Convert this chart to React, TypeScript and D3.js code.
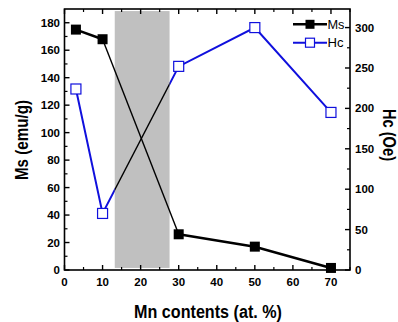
import React from 'react';
import * as d3 from 'd3';

// Mn content (at. %) and measured values
const mnContent = [3, 10, 30, 50, 70];
const msValues = [175, 168, 26, 17, 1.5];
const hcValues = [224, 70, 252, 300, 195];

// shaded two-phase region
const bandX = [13.2, 27.6];
const bandMs = [1.5, 188.5];

const xTicks = [0, 10, 20, 30, 40, 50, 60, 70];
const xMinor = [5, 15, 25, 35, 45, 55, 65, 75];
const msTicks = [0, 20, 40, 60, 80, 100, 120, 140, 160, 180];
const msMinor = [10, 30, 50, 70, 90, 110, 130, 150, 170];
const hcTicks = [0, 50, 100, 150, 200, 250, 300];
const hcMinor = [25, 75, 125, 175, 225, 275];

const W = 398;
const H = 322;
const left = 64.5, right = 350, top = 9, bottom = 270;
const font = '"Liberation Sans", Arial, sans-serif';

const App = () => {
  const x = d3.scaleLinear().domain([0, 75]).range([left, right]);
  const yMs = d3.scaleLinear().domain([0, 190]).range([bottom, top]);
  const yHc = d3.scaleLinear().domain([0, 323]).range([bottom, top]);

  const msPts: [number, number][] = mnContent.map((m, i) => [x(m), yMs(msValues[i])]);
  const hcPts: [number, number][] = mnContent.map((m, i) => [x(m), yHc(hcValues[i])]);
  const line = d3.line();

  const bx0 = x(bandX[0]), bx1 = x(bandX[1]);
  const by0 = yMs(bandMs[1]), by1 = yMs(bandMs[0]);

  const sq = 10;

  return (
    <svg width={W} height={H} style={{ position: 'absolute', left: 0, top: 0, background: '#fff' }}>
      <defs>
        <clipPath id="band">
          <rect x={bx0} y={0} width={bx1 - bx0} height={H} />
        </clipPath>
      </defs>

      {/* Hc line (blue) */}
      <path d={line(hcPts) || ''} fill="none" stroke="#1010dd" strokeWidth={2} />
      {/* Ms thick segments */}
      <path d={line(msPts.slice(0, 2)) || ''} fill="none" stroke="#000" strokeWidth={2.6} />
      <path d={line(msPts.slice(2)) || ''} fill="none" stroke="#000" strokeWidth={2.6} />

      {/* shaded region */}
      <rect x={bx0} y={by0} width={bx1 - bx0} height={by1 - by0} fill="#c0c0c0" />

      {/* thin crossing lines */}
      <path d={line(msPts.slice(1, 3)) || ''} fill="none" stroke="#000" strokeWidth={1.4} />
      <path d={line(hcPts.slice(1, 3)) || ''} fill="none" stroke="#000" strokeWidth={1.4} clipPath="url(#band)" />

      {/* markers */}
      {msPts.map(([px, py], i) => (
        <rect key={'ms' + i} x={px - sq / 2} y={py - sq / 2} width={sq} height={sq} fill="#000" />
      ))}
      {hcPts.map(([px, py], i) => (
        <rect key={'hc' + i} x={px - sq / 2} y={py - sq / 2} width={sq} height={sq} fill="#fff" stroke="#1010dd" strokeWidth={1.2} />
      ))}

      {/* frame */}
      <rect x={left} y={top} width={right - left} height={bottom - top} fill="none" stroke="#000" strokeWidth={1.6} />

      {/* bottom / top ticks */}
      {xTicks.map(t => (
        <g key={'xt' + t}>
          <line x1={x(t)} x2={x(t)} y1={bottom} y2={bottom - 5} stroke="#000" strokeWidth={1.4} />
          <line x1={x(t)} x2={x(t)} y1={top} y2={top + 5} stroke="#000" strokeWidth={1.4} />
          <text x={x(t)} y={286} textAnchor="middle" fontFamily={font} fontWeight="bold" fontSize={11.5}>{t}</text>
        </g>
      ))}
      {xMinor.map(t => (
        <g key={'xm' + t}>
          <line x1={x(t)} x2={x(t)} y1={bottom} y2={bottom - 3} stroke="#000" strokeWidth={1.2} />
          <line x1={x(t)} x2={x(t)} y1={top} y2={top + 3} stroke="#000" strokeWidth={1.2} />
        </g>
      ))}

      {/* left axis (Ms) */}
      {msTicks.map(t => (
        <g key={'mt' + t}>
          <line x1={left} x2={left + 5} y1={yMs(t)} y2={yMs(t)} stroke="#000" strokeWidth={1.4} />
          <text x={60} y={yMs(t) + 4} textAnchor="end" fontFamily={font} fontWeight="bold" fontSize={11.5}>{t}</text>
        </g>
      ))}
      {msMinor.map(t => (
        <line key={'mm' + t} x1={left} x2={left + 3} y1={yMs(t)} y2={yMs(t)} stroke="#000" strokeWidth={1.2} />
      ))}

      {/* right axis (Hc) */}
      {hcTicks.map(t => (
        <g key={'ht' + t}>
          <line x1={right} x2={right - 5} y1={yHc(t)} y2={yHc(t)} stroke="#000" strokeWidth={1.4} />
          <text x={355} y={yHc(t) + 4} textAnchor="start" fontFamily={font} fontWeight="bold" fontSize={11.5}>{t}</text>
        </g>
      ))}
      {hcMinor.map(t => (
        <line key={'hm' + t} x1={right} x2={right - 3} y1={yHc(t)} y2={yHc(t)} stroke="#000" strokeWidth={1.2} />
      ))}

      {/* axis titles */}
      <text x={208} y={318} textAnchor="middle" fontFamily={font} fontWeight="bold" fontSize={18}
        textLength={148} lengthAdjust="spacingAndGlyphs">Mn contents (at. %)</text>
      <text transform="translate(27.5,140) rotate(-90)" textAnchor="middle" fontFamily={font} fontWeight="bold" fontSize={18}
        textLength={80} lengthAdjust="spacingAndGlyphs">Ms (emu/g)</text>
      <text transform="translate(383,135) rotate(90)" textAnchor="middle" fontFamily={font} fontWeight="bold" fontSize={18}
        textLength={52} lengthAdjust="spacingAndGlyphs">Hc (Oe)</text>

      {/* legend */}
      <g>
        <line x1={293} x2={327} y1={24.3} y2={24.3} stroke="#000" strokeWidth={2.6} />
        <rect x={310 - 4.5} y={24.3 - 4.5} width={9} height={9} fill="#000" />
        <text x={327.5} y={28.5} fontFamily={font} fontSize={12.5} textLength={17} lengthAdjust="spacingAndGlyphs">Ms</text>
        <line x1={293} x2={327} y1={42.7} y2={42.7} stroke="#1010dd" strokeWidth={2} />
        <rect x={310 - 4.5} y={42.7 - 4.5} width={9} height={9} fill="#fff" stroke="#1010dd" strokeWidth={1.2} />
        <text x={327.5} y={47} fontFamily={font} fontSize={12.5} textLength={16} lengthAdjust="spacingAndGlyphs">Hc</text>
      </g>
    </svg>
  );
};

export default App;
